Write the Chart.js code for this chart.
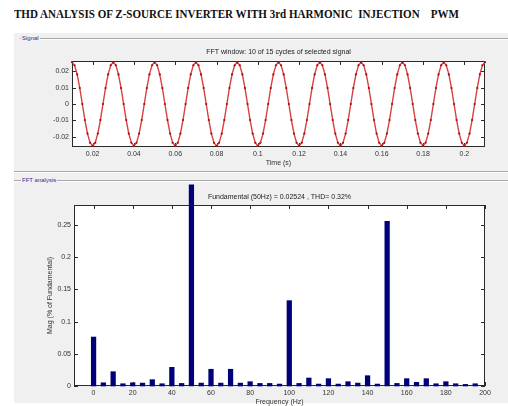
<!DOCTYPE html>
<html><head><meta charset="utf-8">
<script src="https://cdn.jsdelivr.net/npm/chart.js@4"></script>
<style>
html,body{margin:0;padding:0;background:#fff;width:508px;height:406px;overflow:hidden;position:relative;font-family:"Liberation Sans",Arial,sans-serif}
#panel{position:absolute;left:14px;top:33px;width:494px;height:370px;background:#f0f0f0}
#title{position:absolute;left:14px;top:7px;font:bold 12px "Liberation Serif","Times New Roman",serif;white-space:pre;color:#111;transform-origin:0 0;transform:scaleX(0.92)}
.grp{position:absolute;color:#2d2d9c;font-size:6px;line-height:6px;background:#f0f0f0;padding:0 1px}
.ln{position:absolute;height:0;border-top:1px solid #a8a8a8;border-bottom:1px solid #fcfcfc}
canvas{position:absolute;left:0;top:0}
</style></head>
<body>
<div id="panel"></div>
<div id="title">THD ANALYSIS OF Z-SOURCE INVERTER WITH 3rd HARMONIC  INJECTION    PWM</div>
<div class="ln" style="left:20px;top:38px;width:488px"></div>
<div class="grp" style="left:21px;top:35px">Signal</div>
<div class="ln" style="left:14px;top:171px;width:494px"></div>
<div class="ln" style="left:14px;top:180px;width:494px"></div>
<div class="grp" style="left:21px;top:177px">FFT analysis</div>
<canvas id="c1" width="508" height="406"></canvas>
<canvas id="c2" width="508" height="406"></canvas>
<script>
// ---- Signal (time in s, signal value) ----
const sigT = [
0.01,0.01125,0.0125,0.01375,0.015,0.01625,0.0175,0.01875,
0.02,0.02125,0.0225,0.02375,0.025,0.02625,0.0275,0.02875,
0.03,0.03125,0.0325,0.03375,0.035,0.03625,0.0375,0.03875,
0.04,0.04125,0.0425,0.04375,0.045,0.04625,0.0475,0.04875,
0.05,0.05125,0.0525,0.05375,0.055,0.05625,0.0575,0.05875,
0.06,0.06125,0.0625,0.06375,0.065,0.06625,0.0675,0.06875,
0.07,0.07125,0.0725,0.07375,0.075,0.07625,0.0775,0.07875,
0.08,0.08125,0.0825,0.08375,0.085,0.08625,0.0875,0.08875,
0.09,0.09125,0.0925,0.09375,0.095,0.09625,0.0975,0.09875,
0.1,0.10125,0.1025,0.10375,0.105,0.10625,0.1075,0.10875,
0.11,0.11125,0.1125,0.11375,0.115,0.11625,0.1175,0.11875,
0.12,0.12125,0.1225,0.12375,0.125,0.12625,0.1275,0.12875,
0.13,0.13125,0.1325,0.13375,0.135,0.13625,0.1375,0.13875,
0.14,0.14125,0.1425,0.14375,0.145,0.14625,0.1475,0.14875,
0.15,0.15125,0.1525,0.15375,0.155,0.15625,0.1575,0.15875,
0.16,0.16125,0.1625,0.16375,0.165,0.16625,0.1675,0.16875,
0.17,0.17125,0.1725,0.17375,0.175,0.17625,0.1775,0.17875,
0.18,0.18125,0.1825,0.18375,0.185,0.18625,0.1875,0.18875,
0.19,0.19125,0.1925,0.19375,0.195,0.19625,0.1975,0.19875,
0.2,0.20125,0.2025,0.20375,0.205,0.20625,0.2075,0.20875,
0.21];
const sigV = [
0.0256,0.0237,0.0181,0.0098,0,-0.0098,-0.0181,-0.0237,
-0.0256,-0.0237,-0.0181,-0.0098,0,0.0098,0.0181,0.0237,
0.0256,0.0237,0.0181,0.0098,0,-0.0098,-0.0181,-0.0237,
-0.0256,-0.0237,-0.0181,-0.0098,0,0.0098,0.0181,0.0237,
0.0256,0.0237,0.0181,0.0098,0,-0.0098,-0.0181,-0.0237,
-0.0256,-0.0237,-0.0181,-0.0098,0,0.0098,0.0181,0.0237,
0.0256,0.0237,0.0181,0.0098,0,-0.0098,-0.0181,-0.0237,
-0.0256,-0.0237,-0.0181,-0.0098,0,0.0098,0.0181,0.0237,
0.0256,0.0237,0.0181,0.0098,0,-0.0098,-0.0181,-0.0237,
-0.0256,-0.0237,-0.0181,-0.0098,0,0.0098,0.0181,0.0237,
0.0256,0.0237,0.0181,0.0098,0,-0.0098,-0.0181,-0.0237,
-0.0256,-0.0237,-0.0181,-0.0098,0,0.0098,0.0181,0.0237,
0.0256,0.0237,0.0181,0.0098,0,-0.0098,-0.0181,-0.0237,
-0.0256,-0.0237,-0.0181,-0.0098,0,0.0098,0.0181,0.0237,
0.0256,0.0237,0.0181,0.0098,0,-0.0098,-0.0181,-0.0237,
-0.0256,-0.0237,-0.0181,-0.0098,0,0.0098,0.0181,0.0237,
0.0256,0.0237,0.0181,0.0098,0,-0.0098,-0.0181,-0.0237,
-0.0256,-0.0237,-0.0181,-0.0098,0,0.0098,0.0181,0.0237,
0.0256,0.0237,0.0181,0.0098,0,-0.0098,-0.0181,-0.0237,
-0.0256,-0.0237,-0.0181,-0.0098,0,0.0098,0.0181,0.0237,
0.0256];
const timeTicks = [0.02,0.04,0.06,0.08,0.1,0.12,0.14,0.16,0.18,0.2];
const sigTicks = [-0.02,-0.01,0,0.01,0.02];

// ---- FFT (frequency Hz, magnitude % of fundamental) ----
const freqs = [0,5,10,15,20,25,30,35,40,45,50,55,60,65,70,75,80,85,90,95,
100,105,110,115,120,125,130,135,140,145,150,155,160,165,170,175,180,185,190,195];
const mags = [0.076,0.005,0.0222,0.0035,0.005,0.0045,0.0098,0.0035,0.029,0.004,
0.3125,0.0045,0.026,0.0045,0.026,0.0045,0.0067,0.004,0.004,0.003,
0.1325,0.004,0.0124,0.003,0.0114,0.003,0.0067,0.0045,0.016,0.003,
0.2555,0.004,0.0114,0.0057,0.0114,0.0035,0.0067,0.0035,0.0025,0.0035];
const freqTicks = [0,20,40,60,80,100,120,140,160,180,200];
const magTicks = [0,0.05,0.1,0.15,0.2,0.25];

const topTitle = 'FFT window: 10 of 15 cycles of selected signal';
const botTitle = 'Fundamental (50Hz) = 0.02524 , THD= 0.32%';

const FONT = '"Liberation Sans", Arial, sans-serif';
const TXT = '#333';

const frame = {
  id: 'frame',
  beforeDatasetsDraw(chart, args, o) {
    const {ctx, chartArea: a, scales: {x, y}} = chart;
    ctx.save();
    ctx.fillStyle = '#fff';
    ctx.fillRect(a.left, a.top, a.right - a.left, a.bottom - a.top);
    ctx.strokeStyle = '#2a2a2a';
    ctx.lineWidth = 1;
    ctx.strokeRect(Math.round(a.left) + 0.5, Math.round(a.top) + 0.5,
      Math.round(a.right - a.left) - 1, Math.round(a.bottom - a.top) - 1);
    ctx.beginPath();
    const L = 4;
    x.ticks.forEach(t => {
      const p = Math.round(x.getPixelForValue(t.value)) + 0.5;
      ctx.moveTo(p, a.bottom); ctx.lineTo(p, a.bottom - L);
      ctx.moveTo(p, a.top); ctx.lineTo(p, a.top + L);
    });
    y.ticks.forEach(t => {
      const p = Math.round(y.getPixelForValue(t.value)) + 0.5;
      ctx.moveTo(a.left, p); ctx.lineTo(a.left + L, p);
      ctx.moveTo(a.right, p); ctx.lineTo(a.right - L, p);
    });
    ctx.stroke();
    ctx.fillStyle = '#222';
    ctx.font = '7px ' + FONT;
    ctx.textAlign = 'center';
    ctx.textBaseline = 'middle';
    ctx.fillText(o.text, (a.left + a.right) / 2, a.top - o.dy);
    ctx.restore();
  }
};

function axisCommon(ticksArr, fit, title) {
  return {
    type: 'linear',
    afterBuildTicks: s => { s.ticks = ticksArr.map(v => ({value: v})); },
    afterFit: fit,
    grid: {display: false, drawTicks: false},
    border: {display: false},
    ticks: {padding: 3, font: {size: 7, family: FONT}, color: TXT, maxRotation: 0, autoSkip: false,
      callback: v => String(v)},
    title: title
  };
}

new Chart(document.getElementById('c1'), {
  type: 'line',
  data: {datasets: [{
    data: sigT.map((t, i) => ({x: t, y: sigV[i]})),
    borderColor: '#d9403f', borderWidth: 1.4,
    pointRadius: 1.1, pointBackgroundColor: '#9c1214', pointBorderWidth: 0,
    tension: 0, clip: false
  }]},
  options: {
    responsive: false, animation: false, events: [],
    layout: {padding: {left: 32, right: 23, top: 61, bottom: 239}},
    plugins: {legend: {display: false}, tooltip: {enabled: false}, frame: {text: topTitle, dy: 9}},
    scales: {
      x: Object.assign(axisCommon(timeTicks, s => { s.height = 20; },
        {display: true, text: 'Time (s)', font: {size: 7, family: FONT}, color: TXT, padding: 0}),
        {min: 0.01, max: 0.21}),
      y: Object.assign(axisCommon(sigTicks, s => { s.width = 40; }, {display: false}),
        {min: -0.0263, max: 0.0263})
    }
  },
  plugins: [frame]
});

new Chart(document.getElementById('c2'), {
  type: 'bar',
  data: {datasets: [{
    data: freqs.map((f, i) => ({x: f, y: mags[i]})),
    backgroundColor: '#00007a', barThickness: 4.6, clip: false
  }]},
  options: {
    responsive: false, animation: false, events: [],
    layout: {padding: {left: 40, right: 23, top: 205, bottom: 0}},
    plugins: {legend: {display: false}, tooltip: {enabled: false}, frame: {text: botTitle, dy: 8}},
    scales: {
      x: Object.assign(axisCommon(freqTicks, s => { s.height = 20; },
        {display: true, text: 'Frequency (Hz)', font: {size: 7, family: FONT}, color: TXT, padding: 0}),
        {min: -10, max: 200, offset: false}),
      y: Object.assign(axisCommon(magTicks, s => { s.width = 34; },
        {display: true, text: 'Mag (% of Fundamental)', font: {size: 7, family: FONT}, color: TXT, padding: {top: 6, bottom: 0}}),
        {min: 0, max: 0.281})
    }
  },
  plugins: [frame]
});
</script>
</body></html>
